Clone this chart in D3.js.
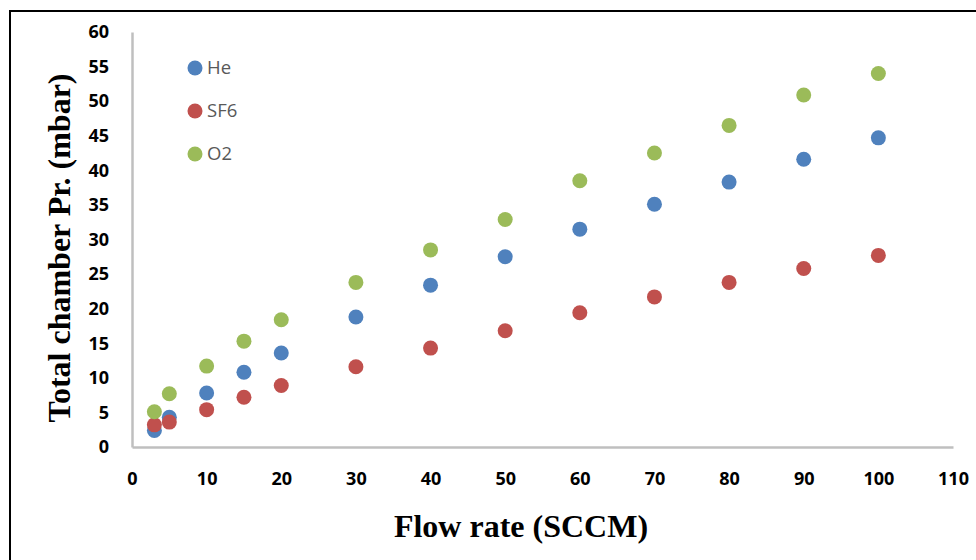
<!DOCTYPE html>
<html>
<head>
<meta charset="utf-8">
<script src="https://cdn.jsdelivr.net/npm/d3@7"></script>
<style>
  body { margin: 0; background: #fff; }
  .tick-label { font-family: "Open Sans", sans-serif; font-weight: 700; font-size: 18px; fill: #000; }
  .legend-label { font-family: "Open Sans", sans-serif; font-size: 18.5px; fill: #595959; }
  .axis-title { font-family: "Liberation Serif", "Times New Roman", serif; font-weight: 700; font-size: 32px; fill: #000; }
</style>
</head>
<body>
<script>
// flow rate (SCCM) for each measurement
var flow = [3, 5, 10, 15, 20, 30, 40, 50, 60, 70, 80, 90, 100];

// total chamber pressure (mbar) per gas
var he  = [2.4, 4.3, 7.8, 10.8, 13.6, 18.8, 23.4, 27.5, 31.5, 35.1, 38.3, 41.6, 44.7];
var sf6 = [3.2, 3.6, 5.4, 7.2, 8.9, 11.6, 14.3, 16.8, 19.4, 21.7, 23.8, 25.8, 27.7];
var o2  = [5.1, 7.7, 11.7, 15.3, 18.4, 23.8, 28.5, 32.9, 38.5, 42.5, 46.5, 50.9, 54.0];

var seriesNames = ["He", "SF6", "O2"];
var seriesColors = ["#4F81BD", "#C0504D", "#9BBB59"];
var xTicks = [0, 10, 20, 30, 40, 50, 60, 70, 80, 90, 100, 110];
var yTicks = [0, 5, 10, 15, 20, 25, 30, 35, 40, 45, 50, 55, 60];

var width = 976, height = 560;
var plot = {left: 132, right: 953, top: 32, bottom: 447};

var svg = d3.select("body").append("svg")
    .attr("width", width)
    .attr("height", height);

// outer frame (cut by the right and bottom edges)
svg.append("rect")
    .attr("x", 10).attr("y", 11)
    .attr("width", 1000).attr("height", 600)
    .attr("fill", "none")
    .attr("stroke", "#000")
    .attr("stroke-width", 2);

var x = d3.scaleLinear().domain([0, 110]).range([plot.left, plot.right]);
var y = d3.scaleLinear().domain([0, 60]).range([plot.bottom, plot.top]);

// axes: grey lines, no tick marks
var xAxis = svg.append("g")
    .attr("transform", "translate(0," + plot.bottom + ")")
    .call(d3.axisBottom(x).tickValues(xTicks).tickSize(0));
var yAxis = svg.append("g")
    .attr("transform", "translate(" + plot.left + ",0)")
    .call(d3.axisLeft(y).tickValues(yTicks).tickSize(0).tickPadding(23));

[xAxis, yAxis].forEach(function(ax) {
  ax.select(".domain").attr("stroke", "#BFBFBF").attr("stroke-width", 2.5);
  ax.selectAll("text").attr("class", "tick-label").attr("fill", null);
});
xAxis.selectAll("text").attr("dy", "0.35em").attr("y", 32);

// points
var all = [he, sf6, o2];
all.forEach(function(vals, s) {
  svg.append("g").selectAll("circle")
      .data(vals)
    .enter().append("circle")
      .attr("cx", function(d, i) { return x(flow[i]); })
      .attr("cy", function(d) { return y(d); })
      .attr("r", 7.5)
      .attr("fill", seriesColors[s]);
});

// legend
var legend = svg.append("g").selectAll("g")
    .data(seriesNames)
  .enter().append("g")
    .attr("transform", function(d, i) { return "translate(195," + (68 + i * 43) + ")"; });
legend.append("circle")
    .attr("r", 7.5)
    .attr("fill", function(d, i) { return seriesColors[i]; });
legend.append("text")
    .attr("class", "legend-label")
    .attr("x", 12)
    .attr("dy", "0.35em")
    .text(function(d) { return d; });

// axis titles
svg.append("text")
    .attr("class", "axis-title")
    .attr("x", 521).attr("y", 537)
    .attr("text-anchor", "middle")
    .text("Flow rate (SCCM)");

svg.append("text")
    .attr("class", "axis-title")
    .attr("transform", "translate(70,248)rotate(-90)")
    .attr("text-anchor", "middle")
    .text("Total chamber Pr. (mbar)");
</script>
</body>
</html>
